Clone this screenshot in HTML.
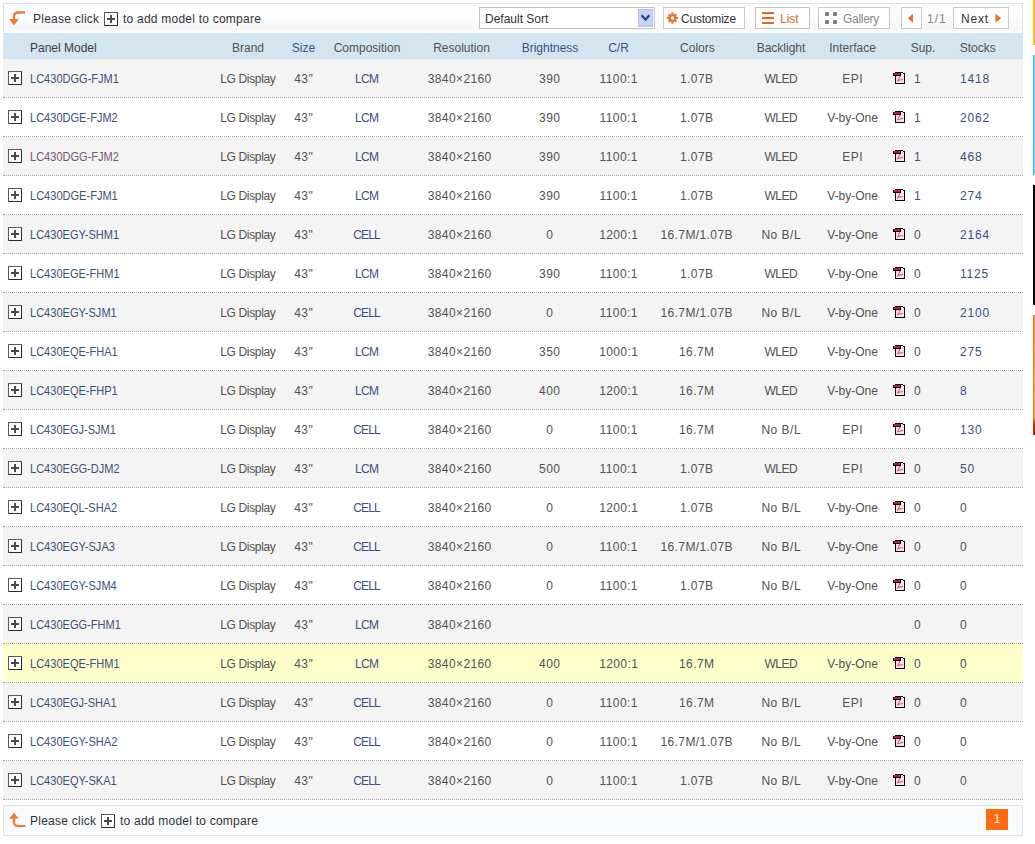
<!DOCTYPE html>
<html><head><meta charset="utf-8"><style>
html,body{margin:0;padding:0;background:#fff;width:1035px;height:844px;overflow:hidden;position:relative;font-family:"Liberation Sans",sans-serif;font-size:12px;color:#333}
div{position:absolute;white-space:nowrap}
.bar{left:3px;width:1018px;border:1px solid #dfe3e6;background:#fafbfc}
.hdr{left:3px;top:33px;width:1020px;height:26px;background:#d3e5f1}
.h{top:41px;color:#3d3d3d;line-height:14px}
.h.hb{color:#3d5385}
.row{left:3px;width:1020px;height:38px;border-bottom:1px dotted #a8a8a8;background:#fff}
.row.odd{background:#f4f4f4}
.row.hl{background:#ffffcc}
.c{width:120px;text-align:center;line-height:14px;color:#525252}
.t{line-height:14px;color:#525252}
.c.blue,.t.blue{color:#3b5081}
.model{line-height:14px;color:#3d5176;transform:scaleX(0.92);transform-origin:0 0}
.model.visited{color:#7d527d}
.plus,.pdf{line-height:0}
.btn{top:7px;height:20px;border:1px solid #c8c8c8;background:#fff;line-height:20px}
</style></head><body>
<div class="bar" style="top:3px;height:30px;border-bottom:none;background:linear-gradient(#feffff,#fafcfe 50%,#f8f7f8 80%,#faf8f9 88%,#fdfeff 93%,#fbfdff)"></div>
<svg style="position:absolute;left:0;top:0" width="30" height="30" viewBox="0 0 30 30"><path d="M25 12.5 H18 Q14 12.5 14 16.5 V20" fill="none" stroke="#f07a2e" stroke-width="2.4"/><path d="M9.3 19 H18.7 L14 25.6 Z" fill="#f07a2e"/></svg>
<div class="t" style="left:33px;top:12px;color:#333;letter-spacing:0.25px">Please click</div>
<div class="plus" style="left:104px;top:12px"><svg width="14" height="14" viewBox="0 0 14 14" shape-rendering="crispEdges"><rect x="0" y="0" width="14" height="14" fill="#5a5a5a"/><rect x="1" y="13" width="13" height="1" fill="#2a2a2a"/><rect x="13" y="1" width="1" height="13" fill="#2a2a2a"/><rect x="1" y="1" width="12" height="12" fill="#fff"/><rect x="3" y="6" width="8" height="2" fill="#4a4a4a"/><rect x="6" y="3" width="2" height="8" fill="#4a4a4a"/></svg></div>
<div class="t" style="left:123px;top:12px;color:#333;letter-spacing:0.23px">to add model to compare</div>

<div style="left:479px;top:7px;width:174px;height:20px;border:1px solid #c4c4c4;background:#fff"></div>
<div class="t" style="left:485px;top:12px;color:#333">Default Sort</div>
<div style="left:638px;top:9px;width:13px;height:16px;border:1px solid #b4c3ec;background:#c4d3fa"></div>
<svg style="position:absolute;left:0;top:0" width="700" height="30" viewBox="0 0 700 30"><path d="M641.5 15.3 L645.5 19.6 L649.5 15.3" fill="none" stroke="#2e4a78" stroke-width="2.4"/></svg>

<div class="btn" style="left:663px;width:80px"></div>
<svg style="position:absolute;left:0;top:0" width="700" height="30" viewBox="0 0 700 30"><g fill="#ef7428"><circle cx="672.5" cy="18" r="4"/><g transform="translate(672.5 18)"><rect x="-1.1" y="-5.6" width="2.2" height="11.2"/><rect x="-5.6" y="-1.1" width="11.2" height="2.2"/><rect x="-1.1" y="-5.4" width="2.2" height="10.8" transform="rotate(45)"/><rect x="-1.1" y="-5.4" width="2.2" height="10.8" transform="rotate(-45)"/></g></g><circle cx="672.5" cy="18" r="1.7" fill="#fff"/></svg>
<div class="t" style="left:681px;top:12px;color:#333;letter-spacing:-0.2px">Customize</div>

<div class="btn" style="left:755px;width:53px;border-color:#c9bfbb"></div>
<svg style="position:absolute;left:762px;top:12px" width="12" height="12" viewBox="0 0 12 12" shape-rendering="crispEdges"><g fill="#e8661e"><rect x="0" y="0" width="12" height="2"/><rect x="0" y="5" width="12" height="2"/><rect x="0" y="10" width="12" height="2"/></g></svg>
<div class="t" style="left:780px;top:12px;color:#e8661e">List</div>

<div class="btn" style="left:818px;width:70px"></div>
<svg style="position:absolute;left:825px;top:12px" width="12" height="12" viewBox="0 0 12 12"><g fill="#7e7e7e"><rect x="0" y="0" width="4" height="4" rx="0.8"/><rect x="8" y="0" width="4" height="4" rx="0.8"/><rect x="0" y="8" width="4" height="4" rx="0.8"/><rect x="8" y="8" width="4" height="4" rx="0.8"/></g></svg>
<div class="t" style="left:843px;top:12px;color:#888;letter-spacing:-0.3px">Gallery</div>

<div class="btn" style="left:901px;width:19px"></div>
<div class="t" style="left:927px;top:12px;color:#888;letter-spacing:1px">1/1</div>
<div class="btn" style="left:953px;width:54px"></div>
<div class="t" style="left:961px;top:12px;color:#333;letter-spacing:0.8px">Next</div>
<svg style="position:absolute;left:0;top:0" width="1035" height="30" viewBox="0 0 1035 30"><path d="M913 13.8 V22.8 L907.8 18.3 Z" fill="#e8701e"/><path d="M995.5 13.8 V22.8 L1001.2 18.3 Z" fill="#e8701e"/></svg>

<div class="hdr"></div>
<div class="h" style="left:30px">Panel Model</div>
<div class="h c " style="left:188px">Brand</div><div class="h c hb" style="left:243.5px">Size</div><div class="h c " style="left:307px">Composition</div><div class="h c " style="left:401.5px">Resolution</div><div class="h c hb" style="left:490px">Brightness</div><div class="h c hb" style="left:558.5px">C/R</div><div class="h c " style="left:637.4px">Colors</div><div class="h c " style="left:721px">Backlight</div><div class="h c " style="left:792.5px">Interface</div><div class="h c " style="left:863px">Sup.</div><div class="h c " style="left:917.7px">Stocks</div>

<div class="row odd" style="top:59px"></div>
<div class="plus" style="left:8px;top:71px"><svg width="14" height="14" viewBox="0 0 14 14" shape-rendering="crispEdges"><rect x="0" y="0" width="14" height="14" fill="#5a5a5a"/><rect x="1" y="13" width="13" height="1" fill="#2a2a2a"/><rect x="13" y="1" width="1" height="13" fill="#2a2a2a"/><rect x="1" y="1" width="12" height="12" fill="#fff"/><rect x="3" y="6" width="8" height="2" fill="#4a4a4a"/><rect x="6" y="3" width="2" height="8" fill="#4a4a4a"/></svg></div>
<div class="model" style="left:30px;top:72px">LC430DGG-FJM1</div>
<div class="c " style="left:187.835px;top:72px;letter-spacing:-0.33px">LG Display</div>
<div class="c " style="left:243.7px;top:72px;letter-spacing:0.4px">43"</div>
<div class="c blue" style="left:306.7px;top:72px;letter-spacing:-0.6px">LCM</div>
<div class="c " style="left:399.7px;top:72px;letter-spacing:0.4px">3840×2160</div>
<div class="c " style="left:489.7px;top:72px;letter-spacing:0.4px">390</div>
<div class="c " style="left:558.7px;top:72px;letter-spacing:0.4px">1100:1</div>
<div class="c " style="left:636.7px;top:72px;letter-spacing:0.4px">1.07B</div>
<div class="c " style="left:720.75px;top:72px;letter-spacing:-0.5px">WLED</div>
<div class="c " style="left:792.75px;top:72px;letter-spacing:0.5px">EPI</div>
<div class="pdf" style="left:893px;top:72px"><svg width="12" height="12" viewBox="0 0 12 12"><g shape-rendering="crispEdges"><rect x="3" y="1" width="8" height="10" fill="#fbe1e8"/><rect x="2" y="0" width="8" height="1" fill="#000"/><rect x="10" y="1" width="2" height="1" fill="#000"/><rect x="11" y="1" width="1" height="11" fill="#000"/><rect x="2" y="11" width="10" height="1" fill="#000"/><rect x="2" y="3" width="1" height="9" fill="#000"/><rect x="0" y="1" width="8" height="3" fill="#000"/><rect x="1" y="1" width="6" height="2" fill="#c8143a"/></g><path d="M7 4 L4.5 9.5 M4.5 8.5 L10 7.5" stroke="#e2486a" stroke-width="1" fill="none"/></svg></div>
<div class="t blue" style="left:914px;top:72px">1</div>
<div class="t blue" style="left:960px;top:72px;letter-spacing:0.8px">1418</div>
<div class="row" style="top:98px"></div>
<div class="plus" style="left:8px;top:110px"><svg width="14" height="14" viewBox="0 0 14 14" shape-rendering="crispEdges"><rect x="0" y="0" width="14" height="14" fill="#5a5a5a"/><rect x="1" y="13" width="13" height="1" fill="#2a2a2a"/><rect x="13" y="1" width="1" height="13" fill="#2a2a2a"/><rect x="1" y="1" width="12" height="12" fill="#fff"/><rect x="3" y="6" width="8" height="2" fill="#4a4a4a"/><rect x="6" y="3" width="2" height="8" fill="#4a4a4a"/></svg></div>
<div class="model" style="left:30px;top:111px">LC430DGE-FJM2</div>
<div class="c " style="left:187.835px;top:111px;letter-spacing:-0.33px">LG Display</div>
<div class="c " style="left:243.7px;top:111px;letter-spacing:0.4px">43"</div>
<div class="c blue" style="left:306.7px;top:111px;letter-spacing:-0.6px">LCM</div>
<div class="c " style="left:399.7px;top:111px;letter-spacing:0.4px">3840×2160</div>
<div class="c " style="left:489.7px;top:111px;letter-spacing:0.4px">390</div>
<div class="c " style="left:558.7px;top:111px;letter-spacing:0.4px">1100:1</div>
<div class="c " style="left:636.7px;top:111px;letter-spacing:0.4px">1.07B</div>
<div class="c " style="left:720.75px;top:111px;letter-spacing:-0.5px">WLED</div>
<div class="c " style="left:792.5px;top:111px;letter-spacing:0px">V-by-One</div>
<div class="pdf" style="left:893px;top:111px"><svg width="12" height="12" viewBox="0 0 12 12"><g shape-rendering="crispEdges"><rect x="3" y="1" width="8" height="10" fill="#fbe1e8"/><rect x="2" y="0" width="8" height="1" fill="#000"/><rect x="10" y="1" width="2" height="1" fill="#000"/><rect x="11" y="1" width="1" height="11" fill="#000"/><rect x="2" y="11" width="10" height="1" fill="#000"/><rect x="2" y="3" width="1" height="9" fill="#000"/><rect x="0" y="1" width="8" height="3" fill="#000"/><rect x="1" y="1" width="6" height="2" fill="#c8143a"/></g><path d="M7 4 L4.5 9.5 M4.5 8.5 L10 7.5" stroke="#e2486a" stroke-width="1" fill="none"/></svg></div>
<div class="t blue" style="left:914px;top:111px">1</div>
<div class="t blue" style="left:960px;top:111px;letter-spacing:0.8px">2062</div>
<div class="row odd" style="top:137px"></div>
<div class="plus" style="left:8px;top:149px"><svg width="14" height="14" viewBox="0 0 14 14" shape-rendering="crispEdges"><rect x="0" y="0" width="14" height="14" fill="#5a5a5a"/><rect x="1" y="13" width="13" height="1" fill="#2a2a2a"/><rect x="13" y="1" width="1" height="13" fill="#2a2a2a"/><rect x="1" y="1" width="12" height="12" fill="#fff"/><rect x="3" y="6" width="8" height="2" fill="#4a4a4a"/><rect x="6" y="3" width="2" height="8" fill="#4a4a4a"/></svg></div>
<div class="model visited" style="left:30px;top:150px">LC430DGG-FJM2</div>
<div class="c " style="left:187.835px;top:150px;letter-spacing:-0.33px">LG Display</div>
<div class="c " style="left:243.7px;top:150px;letter-spacing:0.4px">43"</div>
<div class="c blue" style="left:306.7px;top:150px;letter-spacing:-0.6px">LCM</div>
<div class="c " style="left:399.7px;top:150px;letter-spacing:0.4px">3840×2160</div>
<div class="c " style="left:489.7px;top:150px;letter-spacing:0.4px">390</div>
<div class="c " style="left:558.7px;top:150px;letter-spacing:0.4px">1100:1</div>
<div class="c " style="left:636.7px;top:150px;letter-spacing:0.4px">1.07B</div>
<div class="c " style="left:720.75px;top:150px;letter-spacing:-0.5px">WLED</div>
<div class="c " style="left:792.75px;top:150px;letter-spacing:0.5px">EPI</div>
<div class="pdf" style="left:893px;top:150px"><svg width="12" height="12" viewBox="0 0 12 12"><g shape-rendering="crispEdges"><rect x="3" y="1" width="8" height="10" fill="#fbe1e8"/><rect x="2" y="0" width="8" height="1" fill="#000"/><rect x="10" y="1" width="2" height="1" fill="#000"/><rect x="11" y="1" width="1" height="11" fill="#000"/><rect x="2" y="11" width="10" height="1" fill="#000"/><rect x="2" y="3" width="1" height="9" fill="#000"/><rect x="0" y="1" width="8" height="3" fill="#000"/><rect x="1" y="1" width="6" height="2" fill="#c8143a"/></g><path d="M7 4 L4.5 9.5 M4.5 8.5 L10 7.5" stroke="#e2486a" stroke-width="1" fill="none"/></svg></div>
<div class="t blue" style="left:914px;top:150px">1</div>
<div class="t blue" style="left:960px;top:150px;letter-spacing:0.8px">468</div>
<div class="row" style="top:176px"></div>
<div class="plus" style="left:8px;top:188px"><svg width="14" height="14" viewBox="0 0 14 14" shape-rendering="crispEdges"><rect x="0" y="0" width="14" height="14" fill="#5a5a5a"/><rect x="1" y="13" width="13" height="1" fill="#2a2a2a"/><rect x="13" y="1" width="1" height="13" fill="#2a2a2a"/><rect x="1" y="1" width="12" height="12" fill="#fff"/><rect x="3" y="6" width="8" height="2" fill="#4a4a4a"/><rect x="6" y="3" width="2" height="8" fill="#4a4a4a"/></svg></div>
<div class="model" style="left:30px;top:189px">LC430DGE-FJM1</div>
<div class="c " style="left:187.835px;top:189px;letter-spacing:-0.33px">LG Display</div>
<div class="c " style="left:243.7px;top:189px;letter-spacing:0.4px">43"</div>
<div class="c blue" style="left:306.7px;top:189px;letter-spacing:-0.6px">LCM</div>
<div class="c " style="left:399.7px;top:189px;letter-spacing:0.4px">3840×2160</div>
<div class="c " style="left:489.7px;top:189px;letter-spacing:0.4px">390</div>
<div class="c " style="left:558.7px;top:189px;letter-spacing:0.4px">1100:1</div>
<div class="c " style="left:636.7px;top:189px;letter-spacing:0.4px">1.07B</div>
<div class="c " style="left:720.75px;top:189px;letter-spacing:-0.5px">WLED</div>
<div class="c " style="left:792.5px;top:189px;letter-spacing:0px">V-by-One</div>
<div class="pdf" style="left:893px;top:189px"><svg width="12" height="12" viewBox="0 0 12 12"><g shape-rendering="crispEdges"><rect x="3" y="1" width="8" height="10" fill="#fbe1e8"/><rect x="2" y="0" width="8" height="1" fill="#000"/><rect x="10" y="1" width="2" height="1" fill="#000"/><rect x="11" y="1" width="1" height="11" fill="#000"/><rect x="2" y="11" width="10" height="1" fill="#000"/><rect x="2" y="3" width="1" height="9" fill="#000"/><rect x="0" y="1" width="8" height="3" fill="#000"/><rect x="1" y="1" width="6" height="2" fill="#c8143a"/></g><path d="M7 4 L4.5 9.5 M4.5 8.5 L10 7.5" stroke="#e2486a" stroke-width="1" fill="none"/></svg></div>
<div class="t blue" style="left:914px;top:189px">1</div>
<div class="t blue" style="left:960px;top:189px;letter-spacing:0.8px">274</div>
<div class="row odd" style="top:215px"></div>
<div class="plus" style="left:8px;top:227px"><svg width="14" height="14" viewBox="0 0 14 14" shape-rendering="crispEdges"><rect x="0" y="0" width="14" height="14" fill="#5a5a5a"/><rect x="1" y="13" width="13" height="1" fill="#2a2a2a"/><rect x="13" y="1" width="1" height="13" fill="#2a2a2a"/><rect x="1" y="1" width="12" height="12" fill="#fff"/><rect x="3" y="6" width="8" height="2" fill="#4a4a4a"/><rect x="6" y="3" width="2" height="8" fill="#4a4a4a"/></svg></div>
<div class="model" style="left:30px;top:228px">LC430EGY-SHM1</div>
<div class="c " style="left:187.835px;top:228px;letter-spacing:-0.33px">LG Display</div>
<div class="c " style="left:243.7px;top:228px;letter-spacing:0.4px">43"</div>
<div class="c blue" style="left:306.6px;top:228px;letter-spacing:-0.8px">CELL</div>
<div class="c " style="left:399.7px;top:228px;letter-spacing:0.4px">3840×2160</div>
<div class="c " style="left:489.7px;top:228px;letter-spacing:0.4px">0</div>
<div class="c " style="left:558.7px;top:228px;letter-spacing:0.4px">1200:1</div>
<div class="c " style="left:636.7px;top:228px;letter-spacing:0.4px">16.7M/1.07B</div>
<div class="c " style="left:721.25px;top:228px;letter-spacing:0.5px">No B/L</div>
<div class="c " style="left:792.5px;top:228px;letter-spacing:0px">V-by-One</div>
<div class="pdf" style="left:893px;top:228px"><svg width="12" height="12" viewBox="0 0 12 12"><g shape-rendering="crispEdges"><rect x="3" y="1" width="8" height="10" fill="#fbe1e8"/><rect x="2" y="0" width="8" height="1" fill="#000"/><rect x="10" y="1" width="2" height="1" fill="#000"/><rect x="11" y="1" width="1" height="11" fill="#000"/><rect x="2" y="11" width="10" height="1" fill="#000"/><rect x="2" y="3" width="1" height="9" fill="#000"/><rect x="0" y="1" width="8" height="3" fill="#000"/><rect x="1" y="1" width="6" height="2" fill="#c8143a"/></g><path d="M7 4 L4.5 9.5 M4.5 8.5 L10 7.5" stroke="#e2486a" stroke-width="1" fill="none"/></svg></div>
<div class="t " style="left:914px;top:228px">0</div>
<div class="t blue" style="left:960px;top:228px;letter-spacing:0.8px">2164</div>
<div class="row" style="top:254px"></div>
<div class="plus" style="left:8px;top:266px"><svg width="14" height="14" viewBox="0 0 14 14" shape-rendering="crispEdges"><rect x="0" y="0" width="14" height="14" fill="#5a5a5a"/><rect x="1" y="13" width="13" height="1" fill="#2a2a2a"/><rect x="13" y="1" width="1" height="13" fill="#2a2a2a"/><rect x="1" y="1" width="12" height="12" fill="#fff"/><rect x="3" y="6" width="8" height="2" fill="#4a4a4a"/><rect x="6" y="3" width="2" height="8" fill="#4a4a4a"/></svg></div>
<div class="model" style="left:30px;top:267px">LC430EGE-FHM1</div>
<div class="c " style="left:187.835px;top:267px;letter-spacing:-0.33px">LG Display</div>
<div class="c " style="left:243.7px;top:267px;letter-spacing:0.4px">43"</div>
<div class="c blue" style="left:306.7px;top:267px;letter-spacing:-0.6px">LCM</div>
<div class="c " style="left:399.7px;top:267px;letter-spacing:0.4px">3840×2160</div>
<div class="c " style="left:489.7px;top:267px;letter-spacing:0.4px">390</div>
<div class="c " style="left:558.7px;top:267px;letter-spacing:0.4px">1100:1</div>
<div class="c " style="left:636.7px;top:267px;letter-spacing:0.4px">1.07B</div>
<div class="c " style="left:720.75px;top:267px;letter-spacing:-0.5px">WLED</div>
<div class="c " style="left:792.5px;top:267px;letter-spacing:0px">V-by-One</div>
<div class="pdf" style="left:893px;top:267px"><svg width="12" height="12" viewBox="0 0 12 12"><g shape-rendering="crispEdges"><rect x="3" y="1" width="8" height="10" fill="#fbe1e8"/><rect x="2" y="0" width="8" height="1" fill="#000"/><rect x="10" y="1" width="2" height="1" fill="#000"/><rect x="11" y="1" width="1" height="11" fill="#000"/><rect x="2" y="11" width="10" height="1" fill="#000"/><rect x="2" y="3" width="1" height="9" fill="#000"/><rect x="0" y="1" width="8" height="3" fill="#000"/><rect x="1" y="1" width="6" height="2" fill="#c8143a"/></g><path d="M7 4 L4.5 9.5 M4.5 8.5 L10 7.5" stroke="#e2486a" stroke-width="1" fill="none"/></svg></div>
<div class="t " style="left:914px;top:267px">0</div>
<div class="t blue" style="left:960px;top:267px;letter-spacing:0.8px">1125</div>
<div class="row odd" style="top:293px"></div>
<div class="plus" style="left:8px;top:305px"><svg width="14" height="14" viewBox="0 0 14 14" shape-rendering="crispEdges"><rect x="0" y="0" width="14" height="14" fill="#5a5a5a"/><rect x="1" y="13" width="13" height="1" fill="#2a2a2a"/><rect x="13" y="1" width="1" height="13" fill="#2a2a2a"/><rect x="1" y="1" width="12" height="12" fill="#fff"/><rect x="3" y="6" width="8" height="2" fill="#4a4a4a"/><rect x="6" y="3" width="2" height="8" fill="#4a4a4a"/></svg></div>
<div class="model" style="left:30px;top:306px">LC430EGY-SJM1</div>
<div class="c " style="left:187.835px;top:306px;letter-spacing:-0.33px">LG Display</div>
<div class="c " style="left:243.7px;top:306px;letter-spacing:0.4px">43"</div>
<div class="c blue" style="left:306.6px;top:306px;letter-spacing:-0.8px">CELL</div>
<div class="c " style="left:399.7px;top:306px;letter-spacing:0.4px">3840×2160</div>
<div class="c " style="left:489.7px;top:306px;letter-spacing:0.4px">0</div>
<div class="c " style="left:558.7px;top:306px;letter-spacing:0.4px">1100:1</div>
<div class="c " style="left:636.7px;top:306px;letter-spacing:0.4px">16.7M/1.07B</div>
<div class="c " style="left:721.25px;top:306px;letter-spacing:0.5px">No B/L</div>
<div class="c " style="left:792.5px;top:306px;letter-spacing:0px">V-by-One</div>
<div class="pdf" style="left:893px;top:306px"><svg width="12" height="12" viewBox="0 0 12 12"><g shape-rendering="crispEdges"><rect x="3" y="1" width="8" height="10" fill="#fbe1e8"/><rect x="2" y="0" width="8" height="1" fill="#000"/><rect x="10" y="1" width="2" height="1" fill="#000"/><rect x="11" y="1" width="1" height="11" fill="#000"/><rect x="2" y="11" width="10" height="1" fill="#000"/><rect x="2" y="3" width="1" height="9" fill="#000"/><rect x="0" y="1" width="8" height="3" fill="#000"/><rect x="1" y="1" width="6" height="2" fill="#c8143a"/></g><path d="M7 4 L4.5 9.5 M4.5 8.5 L10 7.5" stroke="#e2486a" stroke-width="1" fill="none"/></svg></div>
<div class="t " style="left:914px;top:306px">0</div>
<div class="t blue" style="left:960px;top:306px;letter-spacing:0.8px">2100</div>
<div class="row" style="top:332px"></div>
<div class="plus" style="left:8px;top:344px"><svg width="14" height="14" viewBox="0 0 14 14" shape-rendering="crispEdges"><rect x="0" y="0" width="14" height="14" fill="#5a5a5a"/><rect x="1" y="13" width="13" height="1" fill="#2a2a2a"/><rect x="13" y="1" width="1" height="13" fill="#2a2a2a"/><rect x="1" y="1" width="12" height="12" fill="#fff"/><rect x="3" y="6" width="8" height="2" fill="#4a4a4a"/><rect x="6" y="3" width="2" height="8" fill="#4a4a4a"/></svg></div>
<div class="model" style="left:30px;top:345px">LC430EQE-FHA1</div>
<div class="c " style="left:187.835px;top:345px;letter-spacing:-0.33px">LG Display</div>
<div class="c " style="left:243.7px;top:345px;letter-spacing:0.4px">43"</div>
<div class="c blue" style="left:306.7px;top:345px;letter-spacing:-0.6px">LCM</div>
<div class="c " style="left:399.7px;top:345px;letter-spacing:0.4px">3840×2160</div>
<div class="c " style="left:489.7px;top:345px;letter-spacing:0.4px">350</div>
<div class="c " style="left:558.7px;top:345px;letter-spacing:0.4px">1000:1</div>
<div class="c " style="left:636.7px;top:345px;letter-spacing:0.4px">16.7M</div>
<div class="c " style="left:720.75px;top:345px;letter-spacing:-0.5px">WLED</div>
<div class="c " style="left:792.5px;top:345px;letter-spacing:0px">V-by-One</div>
<div class="pdf" style="left:893px;top:345px"><svg width="12" height="12" viewBox="0 0 12 12"><g shape-rendering="crispEdges"><rect x="3" y="1" width="8" height="10" fill="#fbe1e8"/><rect x="2" y="0" width="8" height="1" fill="#000"/><rect x="10" y="1" width="2" height="1" fill="#000"/><rect x="11" y="1" width="1" height="11" fill="#000"/><rect x="2" y="11" width="10" height="1" fill="#000"/><rect x="2" y="3" width="1" height="9" fill="#000"/><rect x="0" y="1" width="8" height="3" fill="#000"/><rect x="1" y="1" width="6" height="2" fill="#c8143a"/></g><path d="M7 4 L4.5 9.5 M4.5 8.5 L10 7.5" stroke="#e2486a" stroke-width="1" fill="none"/></svg></div>
<div class="t " style="left:914px;top:345px">0</div>
<div class="t blue" style="left:960px;top:345px;letter-spacing:0.8px">275</div>
<div class="row odd" style="top:371px"></div>
<div class="plus" style="left:8px;top:383px"><svg width="14" height="14" viewBox="0 0 14 14" shape-rendering="crispEdges"><rect x="0" y="0" width="14" height="14" fill="#5a5a5a"/><rect x="1" y="13" width="13" height="1" fill="#2a2a2a"/><rect x="13" y="1" width="1" height="13" fill="#2a2a2a"/><rect x="1" y="1" width="12" height="12" fill="#fff"/><rect x="3" y="6" width="8" height="2" fill="#4a4a4a"/><rect x="6" y="3" width="2" height="8" fill="#4a4a4a"/></svg></div>
<div class="model" style="left:30px;top:384px">LC430EQE-FHP1</div>
<div class="c " style="left:187.835px;top:384px;letter-spacing:-0.33px">LG Display</div>
<div class="c " style="left:243.7px;top:384px;letter-spacing:0.4px">43"</div>
<div class="c blue" style="left:306.7px;top:384px;letter-spacing:-0.6px">LCM</div>
<div class="c " style="left:399.7px;top:384px;letter-spacing:0.4px">3840×2160</div>
<div class="c " style="left:489.7px;top:384px;letter-spacing:0.4px">400</div>
<div class="c " style="left:558.7px;top:384px;letter-spacing:0.4px">1200:1</div>
<div class="c " style="left:636.7px;top:384px;letter-spacing:0.4px">16.7M</div>
<div class="c " style="left:720.75px;top:384px;letter-spacing:-0.5px">WLED</div>
<div class="c " style="left:792.5px;top:384px;letter-spacing:0px">V-by-One</div>
<div class="pdf" style="left:893px;top:384px"><svg width="12" height="12" viewBox="0 0 12 12"><g shape-rendering="crispEdges"><rect x="3" y="1" width="8" height="10" fill="#fbe1e8"/><rect x="2" y="0" width="8" height="1" fill="#000"/><rect x="10" y="1" width="2" height="1" fill="#000"/><rect x="11" y="1" width="1" height="11" fill="#000"/><rect x="2" y="11" width="10" height="1" fill="#000"/><rect x="2" y="3" width="1" height="9" fill="#000"/><rect x="0" y="1" width="8" height="3" fill="#000"/><rect x="1" y="1" width="6" height="2" fill="#c8143a"/></g><path d="M7 4 L4.5 9.5 M4.5 8.5 L10 7.5" stroke="#e2486a" stroke-width="1" fill="none"/></svg></div>
<div class="t " style="left:914px;top:384px">0</div>
<div class="t blue" style="left:960px;top:384px;letter-spacing:0.8px">8</div>
<div class="row" style="top:410px"></div>
<div class="plus" style="left:8px;top:422px"><svg width="14" height="14" viewBox="0 0 14 14" shape-rendering="crispEdges"><rect x="0" y="0" width="14" height="14" fill="#5a5a5a"/><rect x="1" y="13" width="13" height="1" fill="#2a2a2a"/><rect x="13" y="1" width="1" height="13" fill="#2a2a2a"/><rect x="1" y="1" width="12" height="12" fill="#fff"/><rect x="3" y="6" width="8" height="2" fill="#4a4a4a"/><rect x="6" y="3" width="2" height="8" fill="#4a4a4a"/></svg></div>
<div class="model" style="left:30px;top:423px">LC430EGJ-SJM1</div>
<div class="c " style="left:187.835px;top:423px;letter-spacing:-0.33px">LG Display</div>
<div class="c " style="left:243.7px;top:423px;letter-spacing:0.4px">43"</div>
<div class="c blue" style="left:306.6px;top:423px;letter-spacing:-0.8px">CELL</div>
<div class="c " style="left:399.7px;top:423px;letter-spacing:0.4px">3840×2160</div>
<div class="c " style="left:489.7px;top:423px;letter-spacing:0.4px">0</div>
<div class="c " style="left:558.7px;top:423px;letter-spacing:0.4px">1100:1</div>
<div class="c " style="left:636.7px;top:423px;letter-spacing:0.4px">16.7M</div>
<div class="c " style="left:721.25px;top:423px;letter-spacing:0.5px">No B/L</div>
<div class="c " style="left:792.75px;top:423px;letter-spacing:0.5px">EPI</div>
<div class="pdf" style="left:893px;top:423px"><svg width="12" height="12" viewBox="0 0 12 12"><g shape-rendering="crispEdges"><rect x="3" y="1" width="8" height="10" fill="#fbe1e8"/><rect x="2" y="0" width="8" height="1" fill="#000"/><rect x="10" y="1" width="2" height="1" fill="#000"/><rect x="11" y="1" width="1" height="11" fill="#000"/><rect x="2" y="11" width="10" height="1" fill="#000"/><rect x="2" y="3" width="1" height="9" fill="#000"/><rect x="0" y="1" width="8" height="3" fill="#000"/><rect x="1" y="1" width="6" height="2" fill="#c8143a"/></g><path d="M7 4 L4.5 9.5 M4.5 8.5 L10 7.5" stroke="#e2486a" stroke-width="1" fill="none"/></svg></div>
<div class="t " style="left:914px;top:423px">0</div>
<div class="t blue" style="left:960px;top:423px;letter-spacing:0.8px">130</div>
<div class="row odd" style="top:449px"></div>
<div class="plus" style="left:8px;top:461px"><svg width="14" height="14" viewBox="0 0 14 14" shape-rendering="crispEdges"><rect x="0" y="0" width="14" height="14" fill="#5a5a5a"/><rect x="1" y="13" width="13" height="1" fill="#2a2a2a"/><rect x="13" y="1" width="1" height="13" fill="#2a2a2a"/><rect x="1" y="1" width="12" height="12" fill="#fff"/><rect x="3" y="6" width="8" height="2" fill="#4a4a4a"/><rect x="6" y="3" width="2" height="8" fill="#4a4a4a"/></svg></div>
<div class="model" style="left:30px;top:462px">LC430EGG-DJM2</div>
<div class="c " style="left:187.835px;top:462px;letter-spacing:-0.33px">LG Display</div>
<div class="c " style="left:243.7px;top:462px;letter-spacing:0.4px">43"</div>
<div class="c blue" style="left:306.7px;top:462px;letter-spacing:-0.6px">LCM</div>
<div class="c " style="left:399.7px;top:462px;letter-spacing:0.4px">3840×2160</div>
<div class="c " style="left:489.7px;top:462px;letter-spacing:0.4px">500</div>
<div class="c " style="left:558.7px;top:462px;letter-spacing:0.4px">1100:1</div>
<div class="c " style="left:636.7px;top:462px;letter-spacing:0.4px">1.07B</div>
<div class="c " style="left:720.75px;top:462px;letter-spacing:-0.5px">WLED</div>
<div class="c " style="left:792.75px;top:462px;letter-spacing:0.5px">EPI</div>
<div class="pdf" style="left:893px;top:462px"><svg width="12" height="12" viewBox="0 0 12 12"><g shape-rendering="crispEdges"><rect x="3" y="1" width="8" height="10" fill="#fbe1e8"/><rect x="2" y="0" width="8" height="1" fill="#000"/><rect x="10" y="1" width="2" height="1" fill="#000"/><rect x="11" y="1" width="1" height="11" fill="#000"/><rect x="2" y="11" width="10" height="1" fill="#000"/><rect x="2" y="3" width="1" height="9" fill="#000"/><rect x="0" y="1" width="8" height="3" fill="#000"/><rect x="1" y="1" width="6" height="2" fill="#c8143a"/></g><path d="M7 4 L4.5 9.5 M4.5 8.5 L10 7.5" stroke="#e2486a" stroke-width="1" fill="none"/></svg></div>
<div class="t " style="left:914px;top:462px">0</div>
<div class="t blue" style="left:960px;top:462px;letter-spacing:0.8px">50</div>
<div class="row" style="top:488px"></div>
<div class="plus" style="left:8px;top:500px"><svg width="14" height="14" viewBox="0 0 14 14" shape-rendering="crispEdges"><rect x="0" y="0" width="14" height="14" fill="#5a5a5a"/><rect x="1" y="13" width="13" height="1" fill="#2a2a2a"/><rect x="13" y="1" width="1" height="13" fill="#2a2a2a"/><rect x="1" y="1" width="12" height="12" fill="#fff"/><rect x="3" y="6" width="8" height="2" fill="#4a4a4a"/><rect x="6" y="3" width="2" height="8" fill="#4a4a4a"/></svg></div>
<div class="model" style="left:30px;top:501px">LC430EQL-SHA2</div>
<div class="c " style="left:187.835px;top:501px;letter-spacing:-0.33px">LG Display</div>
<div class="c " style="left:243.7px;top:501px;letter-spacing:0.4px">43"</div>
<div class="c blue" style="left:306.6px;top:501px;letter-spacing:-0.8px">CELL</div>
<div class="c " style="left:399.7px;top:501px;letter-spacing:0.4px">3840×2160</div>
<div class="c " style="left:489.7px;top:501px;letter-spacing:0.4px">0</div>
<div class="c " style="left:558.7px;top:501px;letter-spacing:0.4px">1200:1</div>
<div class="c " style="left:636.7px;top:501px;letter-spacing:0.4px">1.07B</div>
<div class="c " style="left:721.25px;top:501px;letter-spacing:0.5px">No B/L</div>
<div class="c " style="left:792.5px;top:501px;letter-spacing:0px">V-by-One</div>
<div class="pdf" style="left:893px;top:501px"><svg width="12" height="12" viewBox="0 0 12 12"><g shape-rendering="crispEdges"><rect x="3" y="1" width="8" height="10" fill="#fbe1e8"/><rect x="2" y="0" width="8" height="1" fill="#000"/><rect x="10" y="1" width="2" height="1" fill="#000"/><rect x="11" y="1" width="1" height="11" fill="#000"/><rect x="2" y="11" width="10" height="1" fill="#000"/><rect x="2" y="3" width="1" height="9" fill="#000"/><rect x="0" y="1" width="8" height="3" fill="#000"/><rect x="1" y="1" width="6" height="2" fill="#c8143a"/></g><path d="M7 4 L4.5 9.5 M4.5 8.5 L10 7.5" stroke="#e2486a" stroke-width="1" fill="none"/></svg></div>
<div class="t " style="left:914px;top:501px">0</div>
<div class="t " style="left:960px;top:501px;letter-spacing:0.8px">0</div>
<div class="row odd" style="top:527px"></div>
<div class="plus" style="left:8px;top:539px"><svg width="14" height="14" viewBox="0 0 14 14" shape-rendering="crispEdges"><rect x="0" y="0" width="14" height="14" fill="#5a5a5a"/><rect x="1" y="13" width="13" height="1" fill="#2a2a2a"/><rect x="13" y="1" width="1" height="13" fill="#2a2a2a"/><rect x="1" y="1" width="12" height="12" fill="#fff"/><rect x="3" y="6" width="8" height="2" fill="#4a4a4a"/><rect x="6" y="3" width="2" height="8" fill="#4a4a4a"/></svg></div>
<div class="model" style="left:30px;top:540px">LC430EGY-SJA3</div>
<div class="c " style="left:187.835px;top:540px;letter-spacing:-0.33px">LG Display</div>
<div class="c " style="left:243.7px;top:540px;letter-spacing:0.4px">43"</div>
<div class="c blue" style="left:306.6px;top:540px;letter-spacing:-0.8px">CELL</div>
<div class="c " style="left:399.7px;top:540px;letter-spacing:0.4px">3840×2160</div>
<div class="c " style="left:489.7px;top:540px;letter-spacing:0.4px">0</div>
<div class="c " style="left:558.7px;top:540px;letter-spacing:0.4px">1100:1</div>
<div class="c " style="left:636.7px;top:540px;letter-spacing:0.4px">16.7M/1.07B</div>
<div class="c " style="left:721.25px;top:540px;letter-spacing:0.5px">No B/L</div>
<div class="c " style="left:792.5px;top:540px;letter-spacing:0px">V-by-One</div>
<div class="pdf" style="left:893px;top:540px"><svg width="12" height="12" viewBox="0 0 12 12"><g shape-rendering="crispEdges"><rect x="3" y="1" width="8" height="10" fill="#fbe1e8"/><rect x="2" y="0" width="8" height="1" fill="#000"/><rect x="10" y="1" width="2" height="1" fill="#000"/><rect x="11" y="1" width="1" height="11" fill="#000"/><rect x="2" y="11" width="10" height="1" fill="#000"/><rect x="2" y="3" width="1" height="9" fill="#000"/><rect x="0" y="1" width="8" height="3" fill="#000"/><rect x="1" y="1" width="6" height="2" fill="#c8143a"/></g><path d="M7 4 L4.5 9.5 M4.5 8.5 L10 7.5" stroke="#e2486a" stroke-width="1" fill="none"/></svg></div>
<div class="t " style="left:914px;top:540px">0</div>
<div class="t " style="left:960px;top:540px;letter-spacing:0.8px">0</div>
<div class="row" style="top:566px"></div>
<div class="plus" style="left:8px;top:578px"><svg width="14" height="14" viewBox="0 0 14 14" shape-rendering="crispEdges"><rect x="0" y="0" width="14" height="14" fill="#5a5a5a"/><rect x="1" y="13" width="13" height="1" fill="#2a2a2a"/><rect x="13" y="1" width="1" height="13" fill="#2a2a2a"/><rect x="1" y="1" width="12" height="12" fill="#fff"/><rect x="3" y="6" width="8" height="2" fill="#4a4a4a"/><rect x="6" y="3" width="2" height="8" fill="#4a4a4a"/></svg></div>
<div class="model" style="left:30px;top:579px">LC430EGY-SJM4</div>
<div class="c " style="left:187.835px;top:579px;letter-spacing:-0.33px">LG Display</div>
<div class="c " style="left:243.7px;top:579px;letter-spacing:0.4px">43"</div>
<div class="c blue" style="left:306.6px;top:579px;letter-spacing:-0.8px">CELL</div>
<div class="c " style="left:399.7px;top:579px;letter-spacing:0.4px">3840×2160</div>
<div class="c " style="left:489.7px;top:579px;letter-spacing:0.4px">0</div>
<div class="c " style="left:558.7px;top:579px;letter-spacing:0.4px">1100:1</div>
<div class="c " style="left:636.7px;top:579px;letter-spacing:0.4px">1.07B</div>
<div class="c " style="left:721.25px;top:579px;letter-spacing:0.5px">No B/L</div>
<div class="c " style="left:792.5px;top:579px;letter-spacing:0px">V-by-One</div>
<div class="pdf" style="left:893px;top:579px"><svg width="12" height="12" viewBox="0 0 12 12"><g shape-rendering="crispEdges"><rect x="3" y="1" width="8" height="10" fill="#fbe1e8"/><rect x="2" y="0" width="8" height="1" fill="#000"/><rect x="10" y="1" width="2" height="1" fill="#000"/><rect x="11" y="1" width="1" height="11" fill="#000"/><rect x="2" y="11" width="10" height="1" fill="#000"/><rect x="2" y="3" width="1" height="9" fill="#000"/><rect x="0" y="1" width="8" height="3" fill="#000"/><rect x="1" y="1" width="6" height="2" fill="#c8143a"/></g><path d="M7 4 L4.5 9.5 M4.5 8.5 L10 7.5" stroke="#e2486a" stroke-width="1" fill="none"/></svg></div>
<div class="t " style="left:914px;top:579px">0</div>
<div class="t " style="left:960px;top:579px;letter-spacing:0.8px">0</div>
<div class="row odd" style="top:605px"></div>
<div class="plus" style="left:8px;top:617px"><svg width="14" height="14" viewBox="0 0 14 14" shape-rendering="crispEdges"><rect x="0" y="0" width="14" height="14" fill="#5a5a5a"/><rect x="1" y="13" width="13" height="1" fill="#2a2a2a"/><rect x="13" y="1" width="1" height="13" fill="#2a2a2a"/><rect x="1" y="1" width="12" height="12" fill="#fff"/><rect x="3" y="6" width="8" height="2" fill="#4a4a4a"/><rect x="6" y="3" width="2" height="8" fill="#4a4a4a"/></svg></div>
<div class="model" style="left:30px;top:618px">LC430EGG-FHM1</div>
<div class="c " style="left:187.835px;top:618px;letter-spacing:-0.33px">LG Display</div>
<div class="c " style="left:243.7px;top:618px;letter-spacing:0.4px">43"</div>
<div class="c blue" style="left:306.7px;top:618px;letter-spacing:-0.6px">LCM</div>
<div class="c " style="left:399.7px;top:618px;letter-spacing:0.4px">3840×2160</div>
<div class="t " style="left:914px;top:618px">0</div>
<div class="t " style="left:960px;top:618px;letter-spacing:0.8px">0</div>
<div class="row hl" style="top:643px;border-top:1px dotted #a8a8a8"></div>
<div class="plus" style="left:8px;top:656px"><svg width="14" height="14" viewBox="0 0 14 14" shape-rendering="crispEdges"><rect x="0" y="0" width="14" height="14" fill="#5a5a5a"/><rect x="1" y="13" width="13" height="1" fill="#2a2a2a"/><rect x="13" y="1" width="1" height="13" fill="#2a2a2a"/><rect x="1" y="1" width="12" height="12" fill="#fff"/><rect x="3" y="6" width="8" height="2" fill="#4a4a4a"/><rect x="6" y="3" width="2" height="8" fill="#4a4a4a"/></svg></div>
<div class="model" style="left:30px;top:657px">LC430EQE-FHM1</div>
<div class="c " style="left:187.835px;top:657px;letter-spacing:-0.33px">LG Display</div>
<div class="c " style="left:243.7px;top:657px;letter-spacing:0.4px">43"</div>
<div class="c blue" style="left:306.7px;top:657px;letter-spacing:-0.6px">LCM</div>
<div class="c " style="left:399.7px;top:657px;letter-spacing:0.4px">3840×2160</div>
<div class="c " style="left:489.7px;top:657px;letter-spacing:0.4px">400</div>
<div class="c " style="left:558.7px;top:657px;letter-spacing:0.4px">1200:1</div>
<div class="c " style="left:636.7px;top:657px;letter-spacing:0.4px">16.7M</div>
<div class="c " style="left:720.75px;top:657px;letter-spacing:-0.5px">WLED</div>
<div class="c " style="left:792.5px;top:657px;letter-spacing:0px">V-by-One</div>
<div class="pdf" style="left:893px;top:657px"><svg width="12" height="12" viewBox="0 0 12 12"><g shape-rendering="crispEdges"><rect x="3" y="1" width="8" height="10" fill="#fbe1e8"/><rect x="2" y="0" width="8" height="1" fill="#000"/><rect x="10" y="1" width="2" height="1" fill="#000"/><rect x="11" y="1" width="1" height="11" fill="#000"/><rect x="2" y="11" width="10" height="1" fill="#000"/><rect x="2" y="3" width="1" height="9" fill="#000"/><rect x="0" y="1" width="8" height="3" fill="#000"/><rect x="1" y="1" width="6" height="2" fill="#c8143a"/></g><path d="M7 4 L4.5 9.5 M4.5 8.5 L10 7.5" stroke="#e2486a" stroke-width="1" fill="none"/></svg></div>
<div class="t " style="left:914px;top:657px">0</div>
<div class="t " style="left:960px;top:657px;letter-spacing:0.8px">0</div>
<div class="row odd" style="top:683px"></div>
<div class="plus" style="left:8px;top:695px"><svg width="14" height="14" viewBox="0 0 14 14" shape-rendering="crispEdges"><rect x="0" y="0" width="14" height="14" fill="#5a5a5a"/><rect x="1" y="13" width="13" height="1" fill="#2a2a2a"/><rect x="13" y="1" width="1" height="13" fill="#2a2a2a"/><rect x="1" y="1" width="12" height="12" fill="#fff"/><rect x="3" y="6" width="8" height="2" fill="#4a4a4a"/><rect x="6" y="3" width="2" height="8" fill="#4a4a4a"/></svg></div>
<div class="model" style="left:30px;top:696px">LC430EGJ-SHA1</div>
<div class="c " style="left:187.835px;top:696px;letter-spacing:-0.33px">LG Display</div>
<div class="c " style="left:243.7px;top:696px;letter-spacing:0.4px">43"</div>
<div class="c blue" style="left:306.6px;top:696px;letter-spacing:-0.8px">CELL</div>
<div class="c " style="left:399.7px;top:696px;letter-spacing:0.4px">3840×2160</div>
<div class="c " style="left:489.7px;top:696px;letter-spacing:0.4px">0</div>
<div class="c " style="left:558.7px;top:696px;letter-spacing:0.4px">1100:1</div>
<div class="c " style="left:636.7px;top:696px;letter-spacing:0.4px">16.7M</div>
<div class="c " style="left:721.25px;top:696px;letter-spacing:0.5px">No B/L</div>
<div class="c " style="left:792.75px;top:696px;letter-spacing:0.5px">EPI</div>
<div class="pdf" style="left:893px;top:696px"><svg width="12" height="12" viewBox="0 0 12 12"><g shape-rendering="crispEdges"><rect x="3" y="1" width="8" height="10" fill="#fbe1e8"/><rect x="2" y="0" width="8" height="1" fill="#000"/><rect x="10" y="1" width="2" height="1" fill="#000"/><rect x="11" y="1" width="1" height="11" fill="#000"/><rect x="2" y="11" width="10" height="1" fill="#000"/><rect x="2" y="3" width="1" height="9" fill="#000"/><rect x="0" y="1" width="8" height="3" fill="#000"/><rect x="1" y="1" width="6" height="2" fill="#c8143a"/></g><path d="M7 4 L4.5 9.5 M4.5 8.5 L10 7.5" stroke="#e2486a" stroke-width="1" fill="none"/></svg></div>
<div class="t " style="left:914px;top:696px">0</div>
<div class="t " style="left:960px;top:696px;letter-spacing:0.8px">0</div>
<div class="row" style="top:722px"></div>
<div class="plus" style="left:8px;top:734px"><svg width="14" height="14" viewBox="0 0 14 14" shape-rendering="crispEdges"><rect x="0" y="0" width="14" height="14" fill="#5a5a5a"/><rect x="1" y="13" width="13" height="1" fill="#2a2a2a"/><rect x="13" y="1" width="1" height="13" fill="#2a2a2a"/><rect x="1" y="1" width="12" height="12" fill="#fff"/><rect x="3" y="6" width="8" height="2" fill="#4a4a4a"/><rect x="6" y="3" width="2" height="8" fill="#4a4a4a"/></svg></div>
<div class="model" style="left:30px;top:735px">LC430EGY-SHA2</div>
<div class="c " style="left:187.835px;top:735px;letter-spacing:-0.33px">LG Display</div>
<div class="c " style="left:243.7px;top:735px;letter-spacing:0.4px">43"</div>
<div class="c blue" style="left:306.6px;top:735px;letter-spacing:-0.8px">CELL</div>
<div class="c " style="left:399.7px;top:735px;letter-spacing:0.4px">3840×2160</div>
<div class="c " style="left:489.7px;top:735px;letter-spacing:0.4px">0</div>
<div class="c " style="left:558.7px;top:735px;letter-spacing:0.4px">1100:1</div>
<div class="c " style="left:636.7px;top:735px;letter-spacing:0.4px">16.7M/1.07B</div>
<div class="c " style="left:721.25px;top:735px;letter-spacing:0.5px">No B/L</div>
<div class="c " style="left:792.5px;top:735px;letter-spacing:0px">V-by-One</div>
<div class="pdf" style="left:893px;top:735px"><svg width="12" height="12" viewBox="0 0 12 12"><g shape-rendering="crispEdges"><rect x="3" y="1" width="8" height="10" fill="#fbe1e8"/><rect x="2" y="0" width="8" height="1" fill="#000"/><rect x="10" y="1" width="2" height="1" fill="#000"/><rect x="11" y="1" width="1" height="11" fill="#000"/><rect x="2" y="11" width="10" height="1" fill="#000"/><rect x="2" y="3" width="1" height="9" fill="#000"/><rect x="0" y="1" width="8" height="3" fill="#000"/><rect x="1" y="1" width="6" height="2" fill="#c8143a"/></g><path d="M7 4 L4.5 9.5 M4.5 8.5 L10 7.5" stroke="#e2486a" stroke-width="1" fill="none"/></svg></div>
<div class="t " style="left:914px;top:735px">0</div>
<div class="t " style="left:960px;top:735px;letter-spacing:0.8px">0</div>
<div class="row odd" style="top:761px"></div>
<div class="plus" style="left:8px;top:773px"><svg width="14" height="14" viewBox="0 0 14 14" shape-rendering="crispEdges"><rect x="0" y="0" width="14" height="14" fill="#5a5a5a"/><rect x="1" y="13" width="13" height="1" fill="#2a2a2a"/><rect x="13" y="1" width="1" height="13" fill="#2a2a2a"/><rect x="1" y="1" width="12" height="12" fill="#fff"/><rect x="3" y="6" width="8" height="2" fill="#4a4a4a"/><rect x="6" y="3" width="2" height="8" fill="#4a4a4a"/></svg></div>
<div class="model" style="left:30px;top:774px">LC430EQY-SKA1</div>
<div class="c " style="left:187.835px;top:774px;letter-spacing:-0.33px">LG Display</div>
<div class="c " style="left:243.7px;top:774px;letter-spacing:0.4px">43"</div>
<div class="c blue" style="left:306.6px;top:774px;letter-spacing:-0.8px">CELL</div>
<div class="c " style="left:399.7px;top:774px;letter-spacing:0.4px">3840×2160</div>
<div class="c " style="left:489.7px;top:774px;letter-spacing:0.4px">0</div>
<div class="c " style="left:558.7px;top:774px;letter-spacing:0.4px">1100:1</div>
<div class="c " style="left:636.7px;top:774px;letter-spacing:0.4px">1.07B</div>
<div class="c " style="left:721.25px;top:774px;letter-spacing:0.5px">No B/L</div>
<div class="c " style="left:792.5px;top:774px;letter-spacing:0px">V-by-One</div>
<div class="pdf" style="left:893px;top:774px"><svg width="12" height="12" viewBox="0 0 12 12"><g shape-rendering="crispEdges"><rect x="3" y="1" width="8" height="10" fill="#fbe1e8"/><rect x="2" y="0" width="8" height="1" fill="#000"/><rect x="10" y="1" width="2" height="1" fill="#000"/><rect x="11" y="1" width="1" height="11" fill="#000"/><rect x="2" y="11" width="10" height="1" fill="#000"/><rect x="2" y="3" width="1" height="9" fill="#000"/><rect x="0" y="1" width="8" height="3" fill="#000"/><rect x="1" y="1" width="6" height="2" fill="#c8143a"/></g><path d="M7 4 L4.5 9.5 M4.5 8.5 L10 7.5" stroke="#e2486a" stroke-width="1" fill="none"/></svg></div>
<div class="t " style="left:914px;top:774px">0</div>
<div class="t " style="left:960px;top:774px;letter-spacing:0.8px">0</div>

<div class="bar" style="top:805px;height:29px;background:#f9fafc"></div>
<svg style="position:absolute;left:0;top:800px" width="30" height="30" viewBox="0 800 30 30"><path d="M14 818 V822 Q14 826 18 826 H25.5" fill="none" stroke="#f07a2e" stroke-width="2.2"/><path d="M9.3 818.8 H18.7 L14 812.4 Z" fill="#f07a2e"/></svg>
<div class="t" style="left:30px;top:814px;color:#333;letter-spacing:0.25px">Please click</div>
<div class="plus" style="left:101px;top:814px"><svg width="14" height="14" viewBox="0 0 14 14" shape-rendering="crispEdges"><rect x="0" y="0" width="14" height="14" fill="#5a5a5a"/><rect x="1" y="13" width="13" height="1" fill="#2a2a2a"/><rect x="13" y="1" width="1" height="13" fill="#2a2a2a"/><rect x="1" y="1" width="12" height="12" fill="#fff"/><rect x="3" y="6" width="8" height="2" fill="#4a4a4a"/><rect x="6" y="3" width="2" height="8" fill="#4a4a4a"/></svg></div>
<div class="t" style="left:120px;top:814px;color:#333;letter-spacing:0.23px">to add model to compare</div>
<div style="left:986px;top:809px;width:22px;height:21px;background:#ff6a0e;color:#fff;text-align:center;line-height:21px">1</div>

<div style="left:1033px;top:0;width:2px;height:45px;background:#f2c12e"></div>
<div style="left:1033px;top:55px;width:1px;height:120px;background:#38a8dc"></div>
<div style="left:1034px;top:55px;width:1px;height:120px;background:#7fdcf6"></div>
<div style="left:1033px;top:185px;width:2px;height:120px;background:#000"></div>
<div style="left:1033px;top:315px;width:1px;height:120px;background:linear-gradient(#d8782e,#e07a28 88%,#c83818 90%,#b02010)"></div>
<div style="left:1034px;top:315px;width:1px;height:120px;background:linear-gradient(#f09a38,#f4b040 85%,#d04020 88%,#901808)"></div>
</body></html>
